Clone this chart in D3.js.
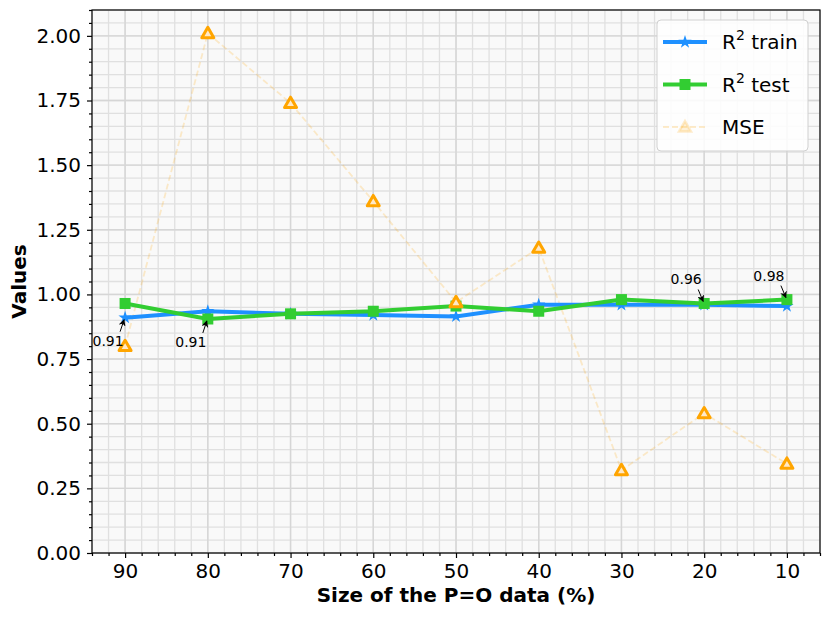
<!DOCTYPE html>
<html>
<head>
<meta charset="utf-8">
<script src="https://cdn.jsdelivr.net/npm/d3@7"></script>
<style>
  body { margin: 0; background: #fff; }
  text { font-family: "DejaVu Sans", sans-serif; }
</style>
</head>
<body>
<div id="chart"></div>
<script>
// data
const sizes = ['90', '80', '70', '60', '50', '40', '30', '20', '10']
const r2Train = [0.91, 0.935, 0.925, 0.92, 0.915, 0.96, 0.96, 0.96, 0.955]
const r2Test = [0.965, 0.905, 0.925, 0.935, 0.955, 0.935, 0.98, 0.965, 0.98]
const mse = [0.80, 2.01, 1.74, 1.36, 0.97, 1.18, 0.32, 0.54, 0.345]
const yTicks = [0, 0.25, 0.5, 0.75, 1.0, 1.25, 1.5, 1.75, 2.0]
// annotations: [index, value, label, dx, dy]
const notes = [
  [0, 0.91, '0.91', -17, 18],
  [1, 0.905, '0.91', -17, 18],
  [7, 0.965, '0.96', -18, -17],
  [8, 0.98, '0.98', -18, -17]
]

const margin = { top: 10, right: 10, bottom: 67, left: 92 }
const W = 830, H = 620
const width = W - margin.left - margin.right
const height = H - margin.top - margin.bottom

const svg = d3.select('#chart').append('svg')
  .attr('width', W).attr('height', H)

const defs = svg.append('defs')
defs.append('marker')
  .attr('id', 'arrow')
  .attr('viewBox', '0 0 10 10')
  .attr('refX', 9).attr('refY', 5)
  .attr('markerWidth', 7).attr('markerHeight', 7)
  .attr('markerUnits', 'userSpaceOnUse')
  .attr('orient', 'auto')
  .append('path').attr('d', 'M0,0 L10,5 L0,10 L3,5 Z').attr('fill', '#000')

const g = svg.append('g').attr('transform', `translate(${margin.left},${margin.top})`)

const x = d3.scaleLinear().domain([-0.4, 8.4]).range([0, width])
const y = d3.scaleLinear().domain([0, 2.1]).range([height, 0])

g.append('rect').attr('width', width).attr('height', height).attr('fill', '#f9f9f9')

// minor + major grid
const xMinor = d3.range(-0.4, 8.41, 0.2).map(v => +v.toFixed(2))
const yMinor = d3.range(0, 2.101, 0.05).map(v => +v.toFixed(2))
g.append('g').selectAll('line').data(xMinor).enter().append('line')
  .attr('x1', d => x(d)).attr('x2', d => x(d)).attr('y1', 0).attr('y2', height)
  .attr('stroke', '#e0e0e0').attr('stroke-width', 1.3)
g.append('g').selectAll('line').data(yMinor).enter().append('line')
  .attr('y1', d => y(d)).attr('y2', d => y(d)).attr('x1', 0).attr('x2', width)
  .attr('stroke', '#e0e0e0').attr('stroke-width', 1.3)
g.append('g').selectAll('line').data(d3.range(sizes.length)).enter().append('line')
  .attr('x1', d => x(d)).attr('x2', d => x(d)).attr('y1', 0).attr('y2', height)
  .attr('stroke', '#d6d6d6').attr('stroke-width', 1.4)
g.append('g').selectAll('line').data(yTicks).enter().append('line')
  .attr('y1', d => y(d)).attr('y2', d => y(d)).attr('x1', 0).attr('x2', width)
  .attr('stroke', '#d6d6d6').attr('stroke-width', 1.4)

// axes
const xAxis = d3.axisBottom(x).tickValues(d3.range(sizes.length))
  .tickFormat(i => sizes[i]).tickSize(5).tickPadding(6)
const xAxisMinor = d3.axisBottom(x).tickValues(xMinor.filter(v => Math.abs(v - Math.round(v)) > 0.01))
  .tickFormat('').tickSize(3)
const yAxis = d3.axisLeft(y).tickValues(yTicks).tickFormat(d3.format('.2f')).tickSize(5).tickPadding(6)
const yAxisMinor = d3.axisLeft(y).tickValues(yMinor.filter(v => Math.abs(v * 4 - Math.round(v * 4)) > 0.01))
  .tickFormat('').tickSize(3)

const gx = g.append('g').attr('transform', `translate(0,${height})`).call(xAxis)
g.append('g').attr('transform', `translate(0,${height})`).call(xAxisMinor)
const gy = g.append('g').call(yAxis)
g.append('g').call(yAxisMinor)
g.selectAll('.domain').remove()
g.selectAll('.tick line').attr('stroke', '#000').attr('stroke-width', 1.2)
gx.selectAll('text').style('font-size', '20px').attr('fill', '#000')
gy.selectAll('text').style('font-size', '20px').attr('fill', '#000')

// series
const line = d3.line().x((d, i) => x(i)).y(d => y(d))

g.append('path').datum(mse).attr('d', line)
  .attr('fill', 'none').attr('stroke', '#ffa500').attr('stroke-opacity', 0.2)
  .attr('stroke-width', 1.8).attr('stroke-dasharray', '6,3')

g.append('path').datum(r2Train).attr('d', line)
  .attr('fill', 'none').attr('stroke', '#1e90ff').attr('stroke-width', 4)
const star = d3.symbol().type(d3.symbolStar).size(55)
g.append('g').selectAll('path').data(r2Train).enter().append('path')
  .attr('d', star).attr('transform', (d, i) => `translate(${x(i)},${y(d)})`)
  .attr('fill', '#1e90ff')

g.append('path').datum(r2Test).attr('d', line)
  .attr('fill', 'none').attr('stroke', '#32cd32').attr('stroke-width', 4)
g.append('g').selectAll('rect').data(r2Test).enter().append('rect')
  .attr('x', (d, i) => x(i) - 5.5).attr('y', d => y(d) - 5.5)
  .attr('width', 11).attr('height', 11).attr('fill', '#32cd32')

const tri = d3.symbol().type(d3.symbolTriangle).size(62)
g.append('g').selectAll('path').data(mse).enter().append('path')
  .attr('d', tri).attr('transform', (d, i) => `translate(${x(i)},${y(d) + 1})`)
  .attr('fill', '#ffe9c8').attr('stroke', '#ffa500').attr('stroke-width', 3)
  .attr('stroke-linejoin', 'round')

// annotations
const ann = g.append('g')
notes.forEach(([i, v, label, dx, dy]) => {
  const px = x(i), py = y(v)
  ann.append('line')
    .attr('x1', px + dx + 12).attr('y1', py + dy - (dy > 0 ? 4 : -3))
    .attr('x2', px - 1).attr('y2', py + (dy > 0 ? 2 : -2))
    .attr('stroke', '#000').attr('stroke-width', 1)
    .attr('marker-end', 'url(#arrow)')
  ann.append('text')
    .attr('x', px + dx).attr('y', py + dy + (dy > 0 ? 10 : -2))
    .attr('text-anchor', 'middle').style('font-size', '14px')
    .text(label)
})

// frame
g.append('rect').attr('width', width).attr('height', height)
  .attr('fill', 'none').attr('stroke', '#000').attr('stroke-width', 1.2)

// legend
const leg = g.append('g').attr('transform', `translate(${width - 163},${10})`)
leg.append('rect').attr('width', 151).attr('height', 131).attr('rx', 4)
  .attr('fill', '#fff').attr('fill-opacity', 0.85).attr('stroke', '#d0d0d0')
const items = [
  { name: 'train', color: '#1e90ff', sym: 'star' },
  { name: 'test', color: '#32cd32', sym: 'square' },
  { name: 'MSE', color: '#ffa500', sym: 'tri' }
]
items.forEach((it, k) => {
  const row = leg.append('g').attr('transform', `translate(0,${22 + k * 42.5})`)
  if (it.sym === 'tri') {
    row.append('line').attr('x1', 6).attr('x2', 50)
      .attr('stroke', it.color).attr('stroke-opacity', 0.2).attr('stroke-width', 1.8)
      .attr('stroke-dasharray', '6,3')
    row.append('path').attr('d', tri).attr('transform', 'translate(28,1)')
      .attr('fill', it.color).attr('fill-opacity', 0.15)
      .attr('stroke', it.color).attr('stroke-opacity', 0.2).attr('stroke-width', 2.5)
    row.append('text').attr('x', 65).attr('y', 7).style('font-size', '20px').text('MSE')
  } else {
    row.append('line').attr('x1', 6).attr('x2', 50)
      .attr('stroke', it.color).attr('stroke-width', 4)
    if (it.sym === 'star') {
      row.append('path').attr('d', star).attr('transform', 'translate(28,0)').attr('fill', it.color)
    } else {
      row.append('rect').attr('x', 22.5).attr('y', -5.5).attr('width', 11).attr('height', 11).attr('fill', it.color)
    }
    const t = row.append('text').attr('x', 65).attr('y', 7).style('font-size', '20px')
    t.append('tspan').text('R')
    t.append('tspan').attr('dy', -9).style('font-size', '14px').text('2')
    t.append('tspan').attr('dy', 9).text(' ' + it.name)
  }
})

// axis labels
svg.append('text')
  .attr('transform', `translate(26,${margin.top + height / 2}) rotate(-90)`)
  .attr('text-anchor', 'middle').style('font-size', '20px').style('font-weight', 'bold')
  .text('Values')
svg.append('text')
  .attr('x', margin.left + width / 2).attr('y', 602)
  .attr('text-anchor', 'middle').style('font-size', '20px').style('font-weight', 'bold')
  .text('Size of the P=O data (%)')
</script>
</body>
</html>
